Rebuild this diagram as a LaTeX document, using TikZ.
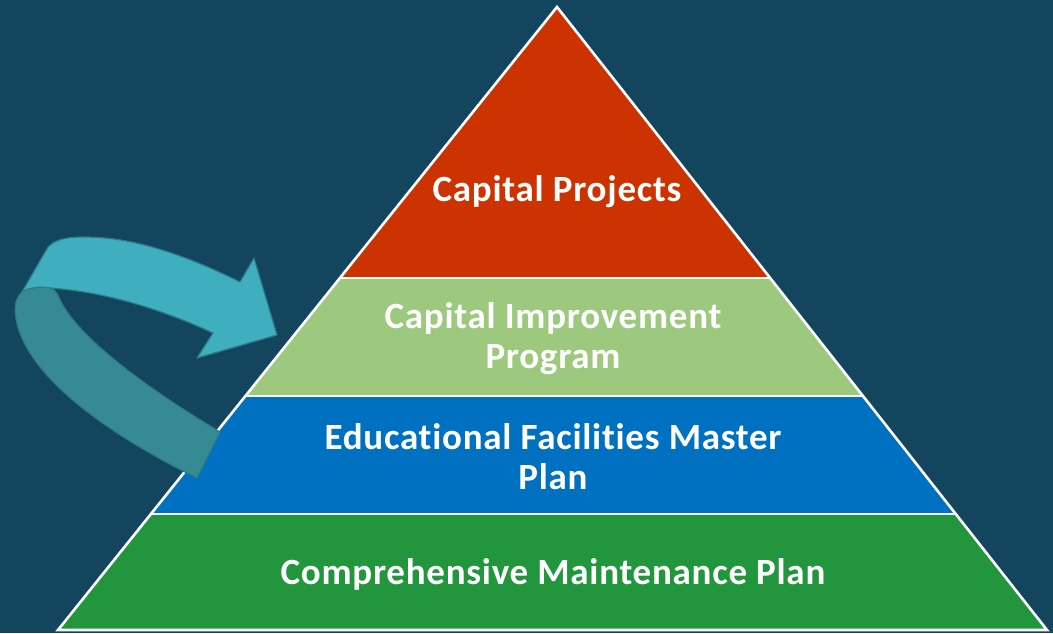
\documentclass[tikz,border=0pt]{standalone}
\usepackage{fontspec}
\setmainfont{Carlito}[LetterSpace=2,Ligatures=NoCommon]
\usetikzlibrary{calc}
\definecolor{bgc}{HTML}{14455F}
\definecolor{tierred}{HTML}{CC3300}
\definecolor{tierlgreen}{HTML}{9DC97F}
\definecolor{tierblue}{HTML}{0070C0}
\definecolor{tiergreen}{HTML}{22963C}
\definecolor{arrowlight}{HTML}{3FAFBF}
\definecolor{arrowdark}{HTML}{368A94}
\definecolor{arrowedge}{HTML}{2C7C88}
\begin{document}
\begin{tikzpicture}[x=1pt,y=-1pt,
  tier/.style={draw=white,line width=2.6pt,line join=miter},
  label/.style={text=white,font=\fontsize{37}{40}\selectfont\bfseries,align=center},
  ribbon/.style={draw=arrowedge,line width=1.2pt,line join=round}]
\fill[bgc] (0,0) rectangle (1053,633);
\useasboundingbox (0,0) rectangle (1053,633);
\coordinate (apex) at (557,7);
\coordinate (bl) at (58,630);
\coordinate (br) at (1047,630);
\coordinate (l1) at ($(apex)!0.435!(bl)$);
\coordinate (r1) at ($(apex)!0.435!(br)$);
\coordinate (l2) at ($(apex)!0.6244!(bl)$);
\coordinate (r2) at ($(apex)!0.6244!(br)$);
\coordinate (l3) at ($(apex)!0.8138!(bl)$);
\coordinate (r3) at ($(apex)!0.8138!(br)$);
\fill[tiergreen] (l3) -- (r3) -- (br) -- (bl) -- cycle;
\fill[tierblue] (l2) -- (r2) -- (r3) -- (l3) -- cycle;
\fill[tierlgreen] (l1) -- (r1) -- (r2) -- (l2) -- cycle;
\fill[tierred] (apex) -- (r1) -- (l1) -- cycle;
\draw[tier] (apex) -- (br) -- (bl) -- cycle;
\draw[tier] (l1) -- (r1) (l2) -- (r2) (l3) -- (r3);
\node[label] (t1) at (557,192) {Capital Projects};
\node[label] (t2) at (553,339) {Capital Improvement\\Program};
\node[label] (t3) at (553,457) {Educational Facilities Master\\Plan};
\node[label] (t4) at (553,574) {Comprehensive Maintenance Plan};
% curved ribbon arrow
\filldraw[ribbon,fill=arrowlight]
  (48,247) .. controls (58,236) and (80,236) .. (105,238)
  .. controls (150,242) and (200,262) .. (240,282)
  -- (254,258) -- (277,335) -- (197,358) -- (213,333)
  .. controls (170,313) and (110,292) .. (50,288)
  -- (22,292) -- cycle;
\filldraw[ribbon,fill=arrowdark,draw=arrowedge]
  (22,292) .. controls (12,300) and (14,320) .. (22,338)
  .. controls (45,390) and (120,440) .. (197,478)
  -- (220,432)
  .. controls (150,390) and (80,340) .. (60,300)
  .. controls (57,292) and (54,289) .. (50,288)
  .. controls (40,286) and (28,288) .. (22,292) -- cycle;
\end{tikzpicture}
\end{document}
